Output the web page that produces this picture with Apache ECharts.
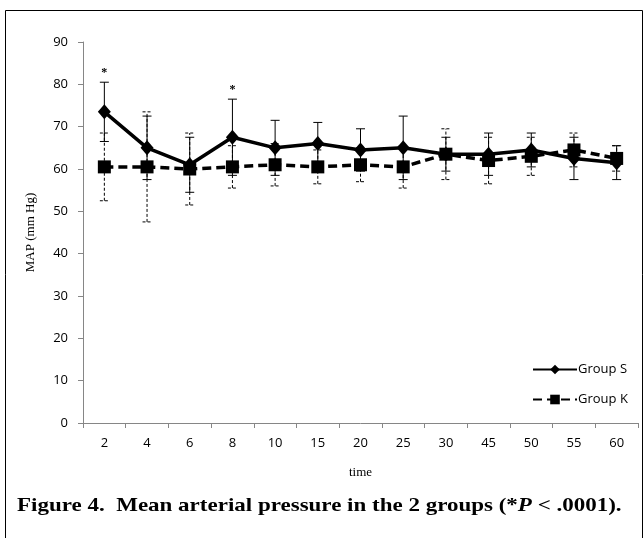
<!DOCTYPE html>
<html>
<head>
<meta charset="utf-8">
<script src="https://cdn.jsdelivr.net/npm/echarts@6/dist/echarts.min.js"></script>
<style>
html,body{margin:0;padding:0;background:#fff;}
#c{width:644px;height:538px;}
</style>
</head>
<body>
<div id="c"></div>
<script>
// ---- data ----
var categories = ['2','4','6','8','10','15','20','25','30','45','50','55','60'];
var groupS = [73.5, 65, 61, 67.5, 65, 66, 64.5, 65, 63.5, 63.5, 64.5, 62.5, 61.5];
var groupSsd = [7, 7.5, 6.5, 9, 6.5, 5, 5, 7.5, 4, 5, 4, 5, 4];
var groupK = [60.5, 60.5, 60, 60.5, 61, 60.5, 61, 60.5, 63.5, 62, 63, 64.5, 62.5];
var groupKsd = [8, 13, 8.5, 5, 5, 4, 4, 5, 6, 5.5, 4.5, 4, 3];
var starFlags = [1, 0, 0, 1, 0, 0, 0, 0, 0, 0, 0, 0, 0];
var yTicks = [0, 10, 20, 30, 40, 50, 60, 70, 80, 90];

var chart = echarts.init(document.getElementById('c'), null, {renderer: 'canvas'});

function errData(mean, sd) {
  return mean.map(function (m, i) { return [i, m - sd[i], m + sd[i]]; });
}

function errRender(dashed) {
  return function (params, api) {
    var i = api.value(0);
    var lo = api.coord([i, api.value(1)]);
    var hi = api.coord([i, api.value(2)]);
    var half = 4.5;
    var st = {stroke: '#000', lineWidth: 1, lineDash: dashed ? [3, 2] : null};
    return {
      type: 'group',
      children: [
        {type: 'line', shape: {x1: lo[0], y1: lo[1], x2: hi[0], y2: hi[1]}, style: st},
        {type: 'line', shape: {x1: hi[0] - half, y1: hi[1], x2: hi[0] + half, y2: hi[1]}, style: st},
        {type: 'line', shape: {x1: lo[0] - half, y1: lo[1], x2: lo[0] + half, y2: lo[1]}, style: st}
      ]
    };
  };
}

var starData = [];
starFlags.forEach(function (f, i) { if (f) starData.push([i, groupS[i] + groupSsd[i]]); });

var sansFont = 'Open Sans';
var serifFont = 'Liberation Serif';

chart.setOption({
  animation: false,
  backgroundColor: '#fff',
  grid: {left: 83, right: 6, top: 42, bottom: 115, containLabel: false},
  xAxis: {
    type: 'category',
    data: categories,
    boundaryGap: true,
    name: 'time',
    nameLocation: 'middle',
    nameGap: 43,
    nameTextStyle: {fontFamily: serifFont, fontSize: 13, color: '#000'},
    axisLine: {lineStyle: {color: '#868686', width: 1}},
    axisTick: {show: true, alignWithLabel: false, length: 5, lineStyle: {color: '#868686'}},
    axisLabel: {fontFamily: sansFont, fontSize: 13, color: '#000', margin: 14},
    splitLine: {show: false}
  },
  yAxis: {
    type: 'value',
    min: yTicks[0],
    max: yTicks[yTicks.length - 1],
    interval: 10,
    name: 'MAP (mm Hg)',
    nameLocation: 'middle',
    nameGap: 46,
    nameRotate: 90,
    nameTextStyle: {fontFamily: serifFont, fontSize: 13, color: '#000'},
    axisLine: {show: true, lineStyle: {color: '#868686', width: 1}},
    axisTick: {show: true, length: 5, lineStyle: {color: '#868686'}},
    axisLabel: {fontFamily: sansFont, fontSize: 13, color: '#000', margin: 15},
    splitLine: {show: false}
  },
  legend: {
    orient: 'vertical',
    left: 527,
    top: 358,
    itemWidth: 44,
    itemHeight: 12,
    itemGap: 17,
    textStyle: {fontFamily: sansFont, fontSize: 13, color: '#000', padding: [0, 0, 0, -4]},
    data: ['Group S', 'Group K']
  },
  series: [
    {
      name: 'S err', type: 'custom', renderItem: errRender(false),
      data: errData(groupS, groupSsd), encode: {x: 0, y: [1, 2]}, z: 2, silent: true
    },
    {
      name: 'K err', type: 'custom', renderItem: errRender(true),
      data: errData(groupK, groupKsd), encode: {x: 0, y: [1, 2]}, z: 2, silent: true
    },
    {
      name: 'Group S', type: 'line', data: groupS,
      symbol: 'diamond', symbolSize: [13, 15],
      lineStyle: {color: '#000', width: 3.5, type: 'solid'},
      itemStyle: {color: '#000'}, z: 3
    },
    {
      name: 'Group K', type: 'line', data: groupK,
      symbol: 'rect', symbolSize: 13,
      lineStyle: {color: '#000', width: 3.5, type: [9, 5]},
      itemStyle: {color: '#000'}, z: 4
    },
    {
      name: 'stars', type: 'custom', data: starData, encode: {x: 0, y: 1}, z: 5, silent: true,
      renderItem: function (params, api) {
        var p = api.coord([api.value(0), api.value(1)]);
        return {type: 'text', x: p[0], y: p[1] - 3,
          style: {text: '*', fontFamily: serifFont, fontSize: 12, fontWeight: 'bold', fill: '#000', align: 'center', verticalAlign: 'bottom'}};
      }
    }
  ],
  graphic: [
    {type: 'rect', shape: {x: 5.5, y: 10.5, width: 637, height: 600}, style: {fill: null, stroke: '#000', lineWidth: 1}, silent: true},
    {
      type: 'text', x: 17, y: 497, scaleX: 1.21, scaleY: 1,
      style: {
        text: '{b|Figure 4.  Mean arterial pressure in the 2 groups (*}{i|P}{b| < .0001).}',
        rich: {
          b: {fontFamily: serifFont, fontSize: 19, fontWeight: 'bold', fill: '#000'},
          i: {fontFamily: serifFont, fontSize: 19, fontWeight: 'bold', fontStyle: 'italic', fill: '#000'}
        }
      }
    }
  ]
});
</script>
</body>
</html>
